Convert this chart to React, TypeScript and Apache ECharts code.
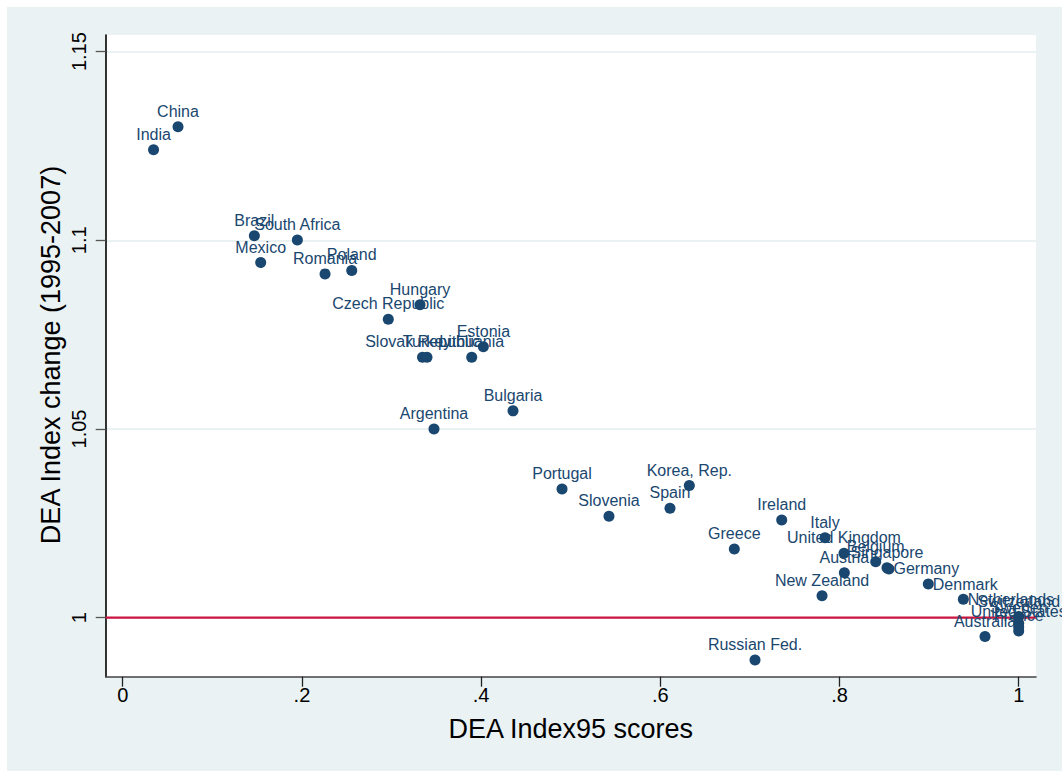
import React, { useEffect, useRef } from "react";
import * as echarts from "echarts";

const countries = [
  "India", "China", "Brazil", "South Africa", "Mexico", "Romania", "Poland",
  "Hungary", "Czech Republic", "Slovak Republic", "Turkey", "Lithuania", "Estonia",
  "Bulgaria", "Argentina", "Portugal", "Slovenia", "Korea, Rep.", "Spain", "Greece",
  "Russian Fed.", "Ireland", "Italy", "United Kingdom", "Belgium", "Singapore",
  "Germany", "Austria", "New Zealand", "Denmark", "Netherlands", "Australia",
  "Switzerland", "Sweden", "United States", "France",
];
const scores95 = [
  0.0344, 0.0617, 0.1469, 0.1949, 0.154, 0.2258, 0.2556,
  0.3318, 0.2964, 0.3346, 0.3396, 0.3895, 0.4025,
  0.4356, 0.3474, 0.4903, 0.5427, 0.6324, 0.6108, 0.6826,
  0.7057, 0.7355, 0.7838, 0.805, 0.8404, 0.853,
  0.8552, 0.8054, 0.7805, 0.8991, 0.9382, 0.9624,
  1.0, 1.0, 1.0, 1.0,
];
const indexChange = [
  1.124, 1.1301, 1.1012, 1.1001, 1.0941, 1.0911, 1.092,
  1.0829, 1.0791, 1.069, 1.069, 1.069, 1.0718,
  1.0548, 1.05, 1.0341, 1.0269, 1.035, 1.029, 1.0182,
  0.9888, 1.0259, 1.0212, 1.0171, 1.0148, 1.0132,
  1.0129, 1.0119, 1.0058, 1.0089, 1.0049, 0.995,
  1.0003, 0.9985, 0.9975, 0.9965,
];
const labelPos = [
  "top", "top", "top", "top", "top", "top", "top",
  "top", "top", "top", "top", "top", "top",
  "top", "top", "top", "top", "top", "top", "top",
  "top", "top", "top", "top", "top", "top",
  "right", "top", "top", "right", "right", "top",
  "top", "top", "top", "top",
];
const xTicks = [0, 0.2, 0.4, 0.6, 0.8, 1];
const xTickLabels = ["0", ".2", ".4", ".6", ".8", "1"];
const yTicks = [1, 1.05, 1.1, 1.15];
const yTickLabels = ["1", "1.05", "1.1", "1.15"];
const refLineY = 1;
const xTitle = "DEA Index95 scores";
const yTitle = "DEA Index change (1995-2007)";

const X_MIN = -0.019;
const X_MAX = 1.0193;
const Y_MIN = 0.98436;
const Y_MAX = 1.1544;

const NAVY = "#1a476f";
const BG = "#EAF2F3";
const FONT = "'Liberation Sans', Arial, Helvetica, sans-serif";

export default function App() {
  const ref = useRef<HTMLDivElement>(null);
  useEffect(() => {
    if (!ref.current) return;
    const chart = echarts.init(ref.current, undefined, { renderer: "svg" });
    const data = countries.map((name, i) => ({
      name,
      value: [scores95[i], indexChange[i]],
      label: {
        position: labelPos[i],
        distance: labelPos[i] === "top" ? 2 : -1,
      },
    }));
    chart.setOption({
      animation: false,
      backgroundColor: BG,
      textStyle: { fontFamily: FONT },
      grid: {
        left: 98.7,
        top: 28,
        width: 930.3,
        height: 641.7,
        show: true,
        backgroundColor: "#ffffff",
        borderWidth: 0,
        containLabel: false,
      },
      xAxis: {
        type: "value",
        min: X_MIN,
        max: X_MAX,
        axisLine: { show: true, onZero: false, lineStyle: { color: "#444", width: 1.6 } },
        axisTick: {
          show: true,
          length: 10,
          customValues: xTicks,
          lineStyle: { color: "#222", width: 1.3 },
        },
        axisLabel: {
          customValues: xTicks,
          margin: 8,
          fontSize: 20,
          color: "#000",
          fontFamily: FONT,
          formatter: (v: number) => {
            const idx = xTicks.findIndex((t) => Math.abs(t - v) < 1e-9);
            return idx >= 0 ? xTickLabels[idx] : "";
          },
        },
        splitLine: { show: false },
      },
      yAxis: {
        type: "value",
        min: Y_MIN,
        max: Y_MAX,
        axisLine: { show: true, onZero: false, lineStyle: { color: "#000", width: 1.6 } },
        axisTick: {
          show: true,
          length: 10,
          customValues: yTicks,
          lineStyle: { color: "#555", width: 1.3 },
        },
        axisLabel: {
          customValues: yTicks,
          rotate: 90,
          margin: 17,
          fontSize: 20,
          color: "#000",
          fontFamily: FONT,
          formatter: (v: number) => {
            const idx = yTicks.findIndex((t) => Math.abs(t - v) < 1e-9);
            return idx >= 0 ? yTickLabels[idx] : "";
          },
        },
        splitLine: { show: true, lineStyle: { color: BG, width: 2 } },
      },
      series: [
        {
          type: "line",
          data: [
            [X_MIN, refLineY],
            [X_MAX, refLineY],
          ],
          symbol: "none",
          silent: true,
          z: 1,
          lineStyle: { color: "#cc1440", width: 2.2 },
        },
        {
          type: "scatter",
          data,
          symbol: "circle",
          symbolSize: 11,
          z: 2,
          itemStyle: { color: NAVY, opacity: 1 },
          label: {
            show: true,
            formatter: "{b}",
            color: NAVY,
            fontSize: 16,
            fontFamily: FONT,
          },
          labelLayout: { hideOverlap: false },
        },
      ],
      graphic: [
        {
          type: "text",
          x: 563.8,
          y: 722,
          style: {
            text: xTitle,
            fontSize: 27,
            fontFamily: FONT,
            fill: "#000",
            align: "center",
            verticalAlign: "middle",
          },
        },
        {
          type: "text",
          x: 44.3,
          y: 348,
          rotation: Math.PI / 2,
          style: {
            text: yTitle,
            fontSize: 27,
            fontFamily: FONT,
            fill: "#000",
            align: "center",
            verticalAlign: "middle",
          },
        },
      ],
    });
    return () => chart.dispose();
  }, []);
  return (
    <div
      ref={ref}
      style={{ position: "fixed", left: 7, top: 7, width: 1055, height: 764 }}
    />
  );
}
